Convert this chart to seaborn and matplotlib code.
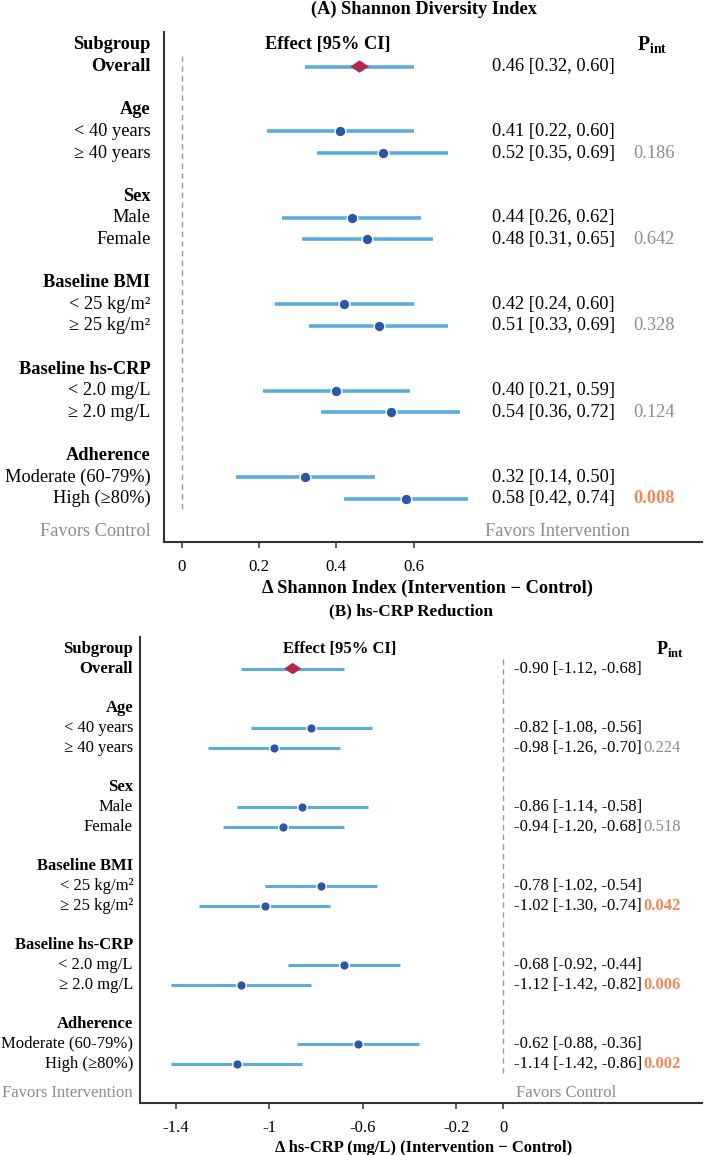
import numpy as np
import pandas as pd
import matplotlib
matplotlib.use("Agg")
import matplotlib.pyplot as plt
import seaborn as sns

# ---------------- data ----------------
group_names = ["Age", "Sex", "Baseline BMI", "Baseline hs-CRP", "Adherence"]
sub_labels = ["< 40 years", "\u2265 40 years", "Male", "Female",
              "< 25 kg/m\u00b2", "\u2265 25 kg/m\u00b2", "< 2.0 mg/L", "\u2265 2.0 mg/L",
              "Moderate (60-79%)", "High (\u226580%)"]

shannon_overall = [0.46, 0.32, 0.60]
shannon_est = [0.41, 0.52, 0.44, 0.48, 0.42, 0.51, 0.40, 0.54, 0.32, 0.58]
shannon_lo = [0.22, 0.35, 0.26, 0.31, 0.24, 0.33, 0.21, 0.36, 0.14, 0.42]
shannon_hi = [0.60, 0.69, 0.62, 0.65, 0.60, 0.69, 0.59, 0.72, 0.50, 0.74]
shannon_p = [0.186, 0.642, 0.328, 0.124, 0.008]

crp_overall = [-0.90, -1.12, -0.68]
crp_est = [-0.82, -0.98, -0.86, -0.94, -0.78, -1.02, -0.68, -1.12, -0.62, -1.14]
crp_lo = [-1.08, -1.26, -1.14, -1.20, -1.02, -1.30, -0.92, -1.42, -0.88, -1.42]
crp_hi = [-0.56, -0.70, -0.58, -0.68, -0.54, -0.74, -0.44, -0.82, -0.36, -0.86]
crp_p = [0.224, 0.518, 0.042, 0.006, 0.002]

shannon_ticks = [0, 0.2, 0.4, 0.6]
shannon_ticklabels = ["0", "0.2", "0.4", "0.6"]
crp_ticks = [-1.4, -1.0, -0.6, -0.2, 0]
crp_ticklabels = ["-1.4", "-1", "-0.6", "-0.2", "0"]

# ---------------- style ----------------
sns.set_theme(style="white")
plt.rcParams['font.family'] = ['Liberation Serif', 'DejaVu Serif']
plt.rcParams['mathtext.fontset'] = 'custom'
plt.rcParams['mathtext.rm'] = 'Liberation Serif'
plt.rcParams['mathtext.bf'] = 'Liberation Serif:bold'
plt.rcParams['axes.unicode_minus'] = False
plt.rcParams['text.color'] = 'black'
plt.rcParams['axes.labelcolor'] = 'black'
plt.rcParams['xtick.color'] = 'black'

CI_COL = "#5AACDD"
DOT_COL = "#2A57A8"
DIA_COL = "#B3294B"
SIG_COL = "#F0895A"
GRAY = "#8C8C8C"
SPINE = "#333333"

W, H = 710, 1155
fig = plt.figure(figsize=(W / 100, H / 100), dpi=100)


def px_axes(l, r, t, b):
    return fig.add_axes([l / W, 1 - b / H, (r - l) / W, (b - t) / H])


def draw_panel(ax, est, lo, hi, ov, pvals, fs, tfs, lw, dot_s, dia_s, xlim,
               ticks, ticklabels, val_x, p_x, p_head_x, eff_x, lab_off,
               fav_left, fav_right, fav_right_x, xlabel, xlab_xy):
    ys_head = [2 + 4 * g for g in range(len(group_names))]
    ys_sub = []
    for g in range(len(group_names)):
        ys_sub += [3 + 4 * g, 4 + 4 * g]
    ytr = ax.get_yaxis_transform()

    ax.vlines(0, -0.5, 20.5, colors="#9A9A9A", linestyles=(0, (4, 3)), lw=1.0, zorder=1)
    ax.hlines(ys_sub, lo, hi, colors=CI_COL, lw=lw, zorder=2)
    ax.hlines([0], [ov[1]], [ov[2]], colors=CI_COL, lw=lw, zorder=2)

    df = pd.DataFrame({"est": est, "y": ys_sub})
    sns.scatterplot(data=df, x="est", y="y", ax=ax, s=dot_s, color=DOT_COL,
                    edgecolor="white", linewidth=1.0, zorder=3, legend=False)
    diamond = [(-1, 0), (0, 0.66), (1, 0), (0, -0.66)]
    sns.scatterplot(x=[ov[0]], y=[0], ax=ax, s=dia_s, marker=diamond, color=DIA_COL,
                    edgecolor="none", zorder=4, legend=False)

    # header row
    ax.text(lab_off, -1, "Subgroup", transform=ytr, ha="right", va="center",
            fontsize=fs, fontweight="bold")
    ax.text(eff_x, -1, "Effect [95% CI]", ha="center", va="center",
            fontsize=fs, fontweight="bold")
    ax.text(p_head_x, -1, r"$\mathbf{P}_{\mathbf{int}}$", ha="center", va="center",
            fontsize=fs + 1)
    # overall
    ax.text(lab_off, 0, "Overall", transform=ytr, ha="right", va="center",
            fontsize=fs, fontweight="bold")
    ax.text(val_x, 0, f"{ov[0]:.2f} [{ov[1]:.2f}, {ov[2]:.2f}]", ha="left",
            va="center", fontsize=fs)
    for g, yh in enumerate(ys_head):
        ax.text(lab_off, yh, group_names[g], transform=ytr, ha="right", va="center",
                fontsize=fs, fontweight="bold")
    for i, y in enumerate(ys_sub):
        ax.text(lab_off, y, sub_labels[i], transform=ytr, ha="right", va="center",
                fontsize=fs)
        ax.text(val_x, y, f"{est[i]:.2f} [{lo[i]:.2f}, {hi[i]:.2f}]", ha="left",
                va="center", fontsize=fs)
    for g, p in enumerate(pvals):
        sig = p < 0.05
        ax.text(p_x, ys_sub[2 * g + 1], f"{p:.3f}", ha="left", va="center",
                fontsize=fs, color=SIG_COL if sig else GRAY,
                fontweight="bold" if sig else "normal")
    ax.text(lab_off, 21.5, fav_left, transform=ytr, ha="right", va="center",
            fontsize=fs, color=GRAY)
    ax.text(fav_right_x, 21.5, fav_right, ha="left", va="center", fontsize=fs,
            color=GRAY)

    ax.set_xlim(*xlim)
    ax.set_ylim(22.0, -1.6)
    ax.set_yticks([])
    ax.set_ylabel("")
    ax.set_xticks(ticks)
    ax.set_xticklabels(ticklabels, fontsize=tfs)
    ax.tick_params(axis="x", bottom=True, length=4, width=1.1, color=SPINE,
                   pad=8, labelcolor="black")
    for s in ["top", "right"]:
        ax.spines[s].set_visible(False)
    for s in ["left", "bottom"]:
        ax.spines[s].set_color(SPINE)
        ax.spines[s].set_linewidth(1.5)
    ax.set_xlabel(xlabel, fontsize=fs, fontweight="bold")
    ax.xaxis.label.set_va("center")
    ax.xaxis.set_label_coords(*xlab_xy)
    ax.grid(False)


# Panel A
axA = px_axes(163.6, 702, 32, 542)
draw_panel(axA, shannon_est, shannon_lo, shannon_hi, shannon_overall, shannon_p,
           fs=13.2, tfs=12.2, lw=2.6, dot_s=60, dia_s=185,
           xlim=((163.6 - 181.8) / 386.5, (702 - 181.8) / 386.5),
           ticks=shannon_ticks, ticklabels=shannon_ticklabels,
           val_x=0.803, p_x=1.167, p_head_x=1.217, eff_x=0.378,
           lab_off=-13 / (702 - 163.6),
           fav_left="Favors Control", fav_right="Favors Intervention",
           fav_right_x=0.785,
           xlabel="\u0394 Shannon Index (Intervention \u2212 Control)",
           xlab_xy=(0.49, -(588 - 542) / 510))

# Panel B
axB = px_axes(140, 702, 637, 1103)
draw_panel(axB, crp_est, crp_lo, crp_hi, crp_overall, crp_p,
           fs=12.0, tfs=12.0, lw=2.2, dot_s=48, dia_s=155,
           xlim=((140 - 503.3) / 234, (702 - 503.3) / 234),
           ticks=crp_ticks, ticklabels=crp_ticklabels,
           val_x=0.046, p_x=0.60, p_head_x=0.712, eff_x=-0.70,
           lab_off=-7 / (702 - 140),
           fav_left="Favors Intervention", fav_right="Favors Control",
           fav_right_x=0.054,
           xlabel="\u0394 hs-CRP (mg/L) (Intervention \u2212 Control)",
           xlab_xy=(0.505, -(1148 - 1103) / 466))

fig.text(424 / W, 1 - 9 / H, "(A) Shannon Diversity Index", ha="center", va="center",
         fontsize=13.2, fontweight="bold")
fig.text(411 / W, 1 - 611 / H, "(B) hs-CRP Reduction", ha="center", va="center",
         fontsize=12.4, fontweight="bold")

fig.savefig("out.png", dpi=100)
